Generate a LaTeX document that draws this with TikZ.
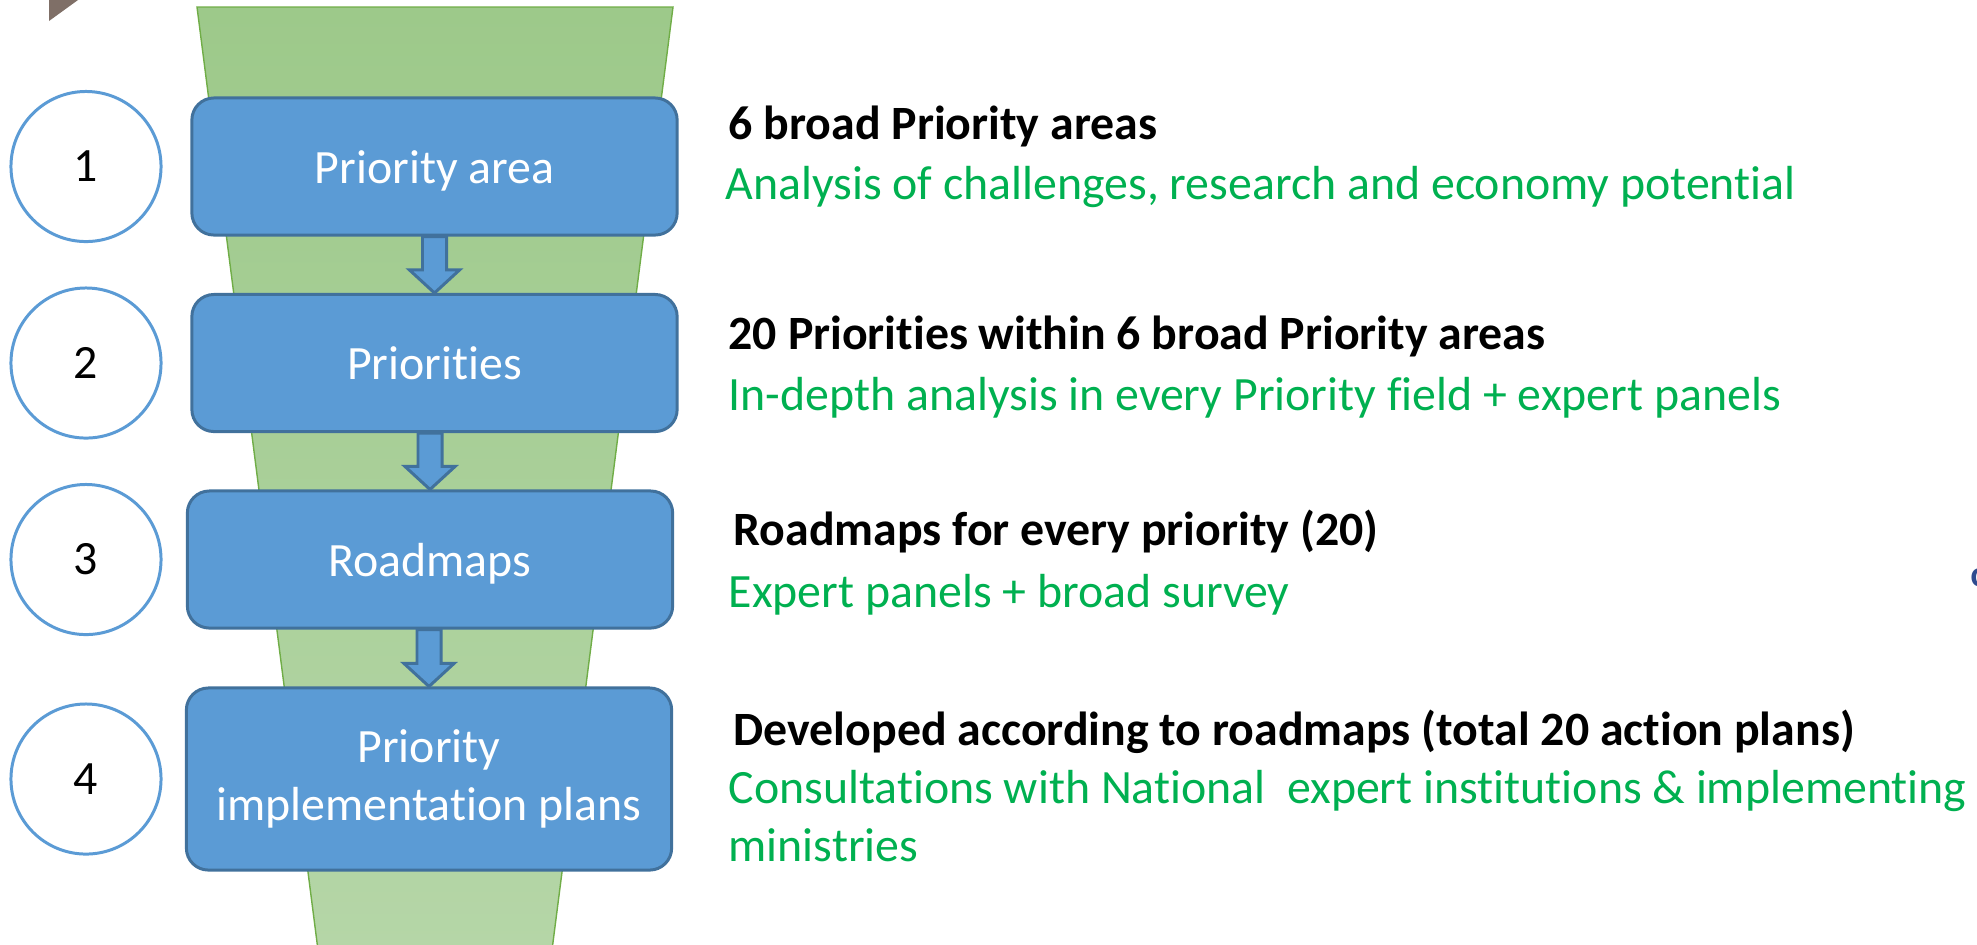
\documentclass[tikz,border=0pt]{standalone}
\usepackage{fontspec}
\setmainfont{Carlito}[Ligatures={NoCommon}, RawFeature={-liga;-clig}]
\usetikzlibrary{calc}
\definecolor{boxblue}{HTML}{5B9BD5}
\definecolor{boxedge}{HTML}{41719C}
\definecolor{notegreen}{HTML}{00B050}
\definecolor{funneltop}{HTML}{9DC98A}
\definecolor{funnelbottom}{HTML}{B5D6A7}
\definecolor{funneledge}{HTML}{70AD47}
\definecolor{cornergray}{HTML}{7F6F67}
\definecolor{glyphblue}{HTML}{2F4B8F}
\newcommand{\slidefont}{\fontsize{13.6}{16.5}\selectfont}
\tikzset{
    stepbox/.style={
        rectangle,
        draw=boxedge,
        line width=0.85pt,
        fill=boxblue,
        rounded corners=0.22cm,
        minimum width=4.85cm,
        minimum height=1.37cm,
        text=white,
        font=\slidefont,
        align=center,
        text height=0.35cm,
        text depth=0.02cm
    },
    tallbox/.style={
        stepbox,
        minimum height=1.82cm,
        text height={},
        text depth={}
    },
    numcircle/.style={
        circle,
        draw=boxblue,
        line width=0.85pt,
        fill=white,
        minimum size=1.50cm,
        font=\slidefont
    },
    headtext/.style={
        anchor=base west,
        inner sep=0pt,
        font=\slidefont\bfseries
    },
    notetext/.style={
        anchor=base west,
        inner sep=0pt,
        font=\slidefont,
        text=notegreen,
        align=left
    },
    blockarrow/.style={
        draw=boxedge,
        line width=0.85pt,
        fill=boxblue
    },
    funnel/.style={
        draw=funneledge,
        line width=0.4pt,
        top color=funneltop,
        bottom color=funnelbottom
    }
}

\begin{document}
\begin{tikzpicture}[x=0.01cm, y=-0.01cm]
    \useasboundingbox (0,0) rectangle (1977,944);

    \fill[cornergray] (49,0) -- (78,0) -- (49,21) -- cycle;
    \shadedraw[funnel] (197,7) -- (673,7) -- (552,950) -- (318,950) -- cycle;

    \node[stepbox] (area) at (434.5,166.5) {Priority area};
    \node[stepbox] (prio) at (434.5,363) {Priorities};
    \node[stepbox] (road) at (430,559.5) {Roadmaps};
    \node[tallbox] (plan) at (429,779) {Priority\\implementation plans};

    \foreach \n/\y in {1/166.5, 2/363, 3/559.5, 4/779} {
        \node[numcircle] (num\n) at (86,\y) {\n};
    }

    \foreach \a/\b in {area/prio, prio/road, road/plan} {
        \draw[blockarrow] let \p1=(\a.south), \p2=(\b.north) in
            (\x2-0.12cm,\y1) -- (\x2-0.12cm,\y2+0.23cm) -- (\x2-0.25cm,\y2+0.23cm) -- (\x2,\y2)
            -- (\x2+0.25cm,\y2+0.23cm) -- (\x2+0.12cm,\y2+0.23cm) -- (\x2+0.12cm,\y1) -- cycle;
    }

    \node[headtext] (head1) at (728,139) {6 broad Priority areas};
    \node[notetext] (note1) at (725,199) {Analysis of challenges, research and economy potential};
    \node[headtext] (head2) at (728,349) {20 Priorities within 6 broad Priority areas};
    \node[notetext] (note2) at (728,410) {In-depth analysis in every Priority field + expert panels};
    \node[headtext] (head3) at (733,545) {Roadmaps for every priority (20)};
    \node[notetext] (note3) at (728,607) {Expert panels + broad survey};
    \node[headtext] (head4) at (733,745) {Developed according to roadmaps (total 20 action plans)};
    \node[notetext] (note4) at (728,861) {Consultations with National\ \ expert institutions \& implementing\\ministries};

    \node[anchor=base west, inner sep=0pt, text=glyphblue, font=\fontsize{10.3}{12}\selectfont\bfseries] (edgeglyph) at (1970,586) {c};
\end{tikzpicture}
\end{document}
